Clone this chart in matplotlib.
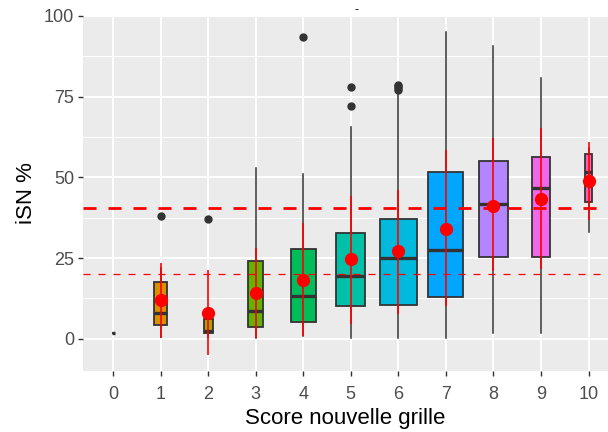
import numpy as np
import matplotlib
matplotlib.use("Agg")
import matplotlib.pyplot as plt

plt.rcParams['font.family'] = ['Liberation Sans', 'DejaVu Sans']

# Valeurs (score 0 a 10)
scores = [0, 1, 2, 3, 4, 5, 6, 7, 8, 9, 10]
effectifs = [1, 17, 9, 25, 70, 92, 150, 136, 94, 40, 6]
q1 = [1.7, 4.2, 1.9, 3.7, 5.3, 10.1, 10.6, 13.0, 25.2, 25.3, 42.4]
mediane = [1.7, 8.0, 2.4, 8.6, 13.4, 19.4, 25.1, 27.6, 41.8, 46.6, 51.8]
q3 = [1.7, 17.6, 6.0, 24.0, 27.9, 32.7, 37.1, 51.8, 55.2, 56.2, 57.3]
moust_bas = [1.7, 0.5, 0.5, 0.1, 0.8, 0.3, 0.3, 0.3, 1.7, 1.7, 33.1]
moust_haut = [1.7, 22.0, 9.0, 53.0, 51.1, 65.7, 76.0, 95.1, 90.7, 80.9, 59.0]
aberrants = [[], [38.1], [37.1], [], [93.5], [72.0, 78.1],
             [77.0, 77.6, 78.2, 78.7], [], [], [], []]
moyenne = [np.nan, 12.0, 8.0, 14.3, 18.3, 24.8, 27.2, 34.0, 41.2, 43.4, 48.8]
sdl_bas = [np.nan, 0.1, -5.0, 0.1, 0.8, 4.7, 7.8, 10.1, 20.9, 21.7, 36.9]
sdl_haut = [np.nan, 23.6, 21.2, 28.2, 35.8, 44.2, 46.2, 58.5, 62.2, 65.2, 60.9]
seuil_haut = 40.6
seuil_bas = 20.0

couleurs = ["#F8766D", "#DB8E00", "#AEA200", "#64B200", "#00BD5C", "#00C1A7",
            "#00BADE", "#00A6FF", "#B385FF", "#EF67EB", "#FF63B6"]

fig = plt.figure(figsize=(6.08, 4.32), dpi=100)
ax = fig.add_axes([0.137, 0.141, 0.863, 0.822])
ax.set_facecolor('#EBEBEB')

n = np.array(effectifs, dtype=float)
largeurs = 0.77 * np.sqrt(n / n.max())

stats = []
for i in range(len(scores)):
    stats.append(dict(med=mediane[i], q1=q1[i], q3=q3[i],
                      whislo=moust_bas[i], whishi=moust_haut[i],
                      fliers=aberrants[i]))

bp = ax.bxp(stats, positions=scores, widths=largeurs, patch_artist=True,
            showcaps=False,
            boxprops=dict(edgecolor='#333333', linewidth=1.3),
            medianprops=dict(color='#333333', linewidth=2.4),
            whiskerprops=dict(color='#333333', linewidth=1.1),
            flierprops=dict(marker='o', markerfacecolor='#333333',
                            markeredgecolor='#333333', markersize=5))
for patch, c in zip(bp['boxes'], couleurs):
    patch.set_facecolor(c)
    patch.set_zorder(2)
for ln in bp['medians'] + bp['whiskers'] + bp['fliers']:
    ln.set_zorder(2)

# moyenne +/- ecart-type
ax.vlines(scores, sdl_bas, sdl_haut, color='red', linewidth=1.2, zorder=4)
ax.plot(scores, moyenne, 'o', color='red', markersize=8.5, zorder=5)

ax.axhline(seuil_haut, color='red', linewidth=2.0, dashes=(4.7, 4.3), zorder=3)
ax.axhline(seuil_bas, color='red', linewidth=0.9, dashes=(5.6, 6.4), zorder=3)

ax.set_xlim(-0.625, 10.41)
ax.set_ylim(-10, 100)
ax.set_xticks(scores)
ax.set_xticklabels([str(s) for s in scores])
ax.set_yticks([0, 25, 50, 75, 100])
ax.set_yticks([12.5, 37.5, 62.5, 87.5], minor=True)
ax.grid(which='major', color='white', linewidth=1.4)
ax.grid(which='minor', axis='y', color='white', linewidth=0.7)
ax.set_axisbelow(True)
for s in ax.spines.values():
    s.set_visible(False)
ax.tick_params(axis='both', which='major', colors='#333333', length=3.5,
               width=1.0, labelsize=13, labelcolor='#4D4D4D', pad=3)
ax.tick_params(axis='x', which='major', pad=7)
ax.tick_params(axis='y', which='minor', length=0)

ax.set_xlabel('Score nouvelle grille', fontsize=16, color='black', labelpad=4)
ax.set_ylabel('iSN %', fontsize=16, color='black', labelpad=5)
ax.set_title('-', fontsize=9, x=0.52, pad=2)

fig.savefig('out.png', dpi=100)
